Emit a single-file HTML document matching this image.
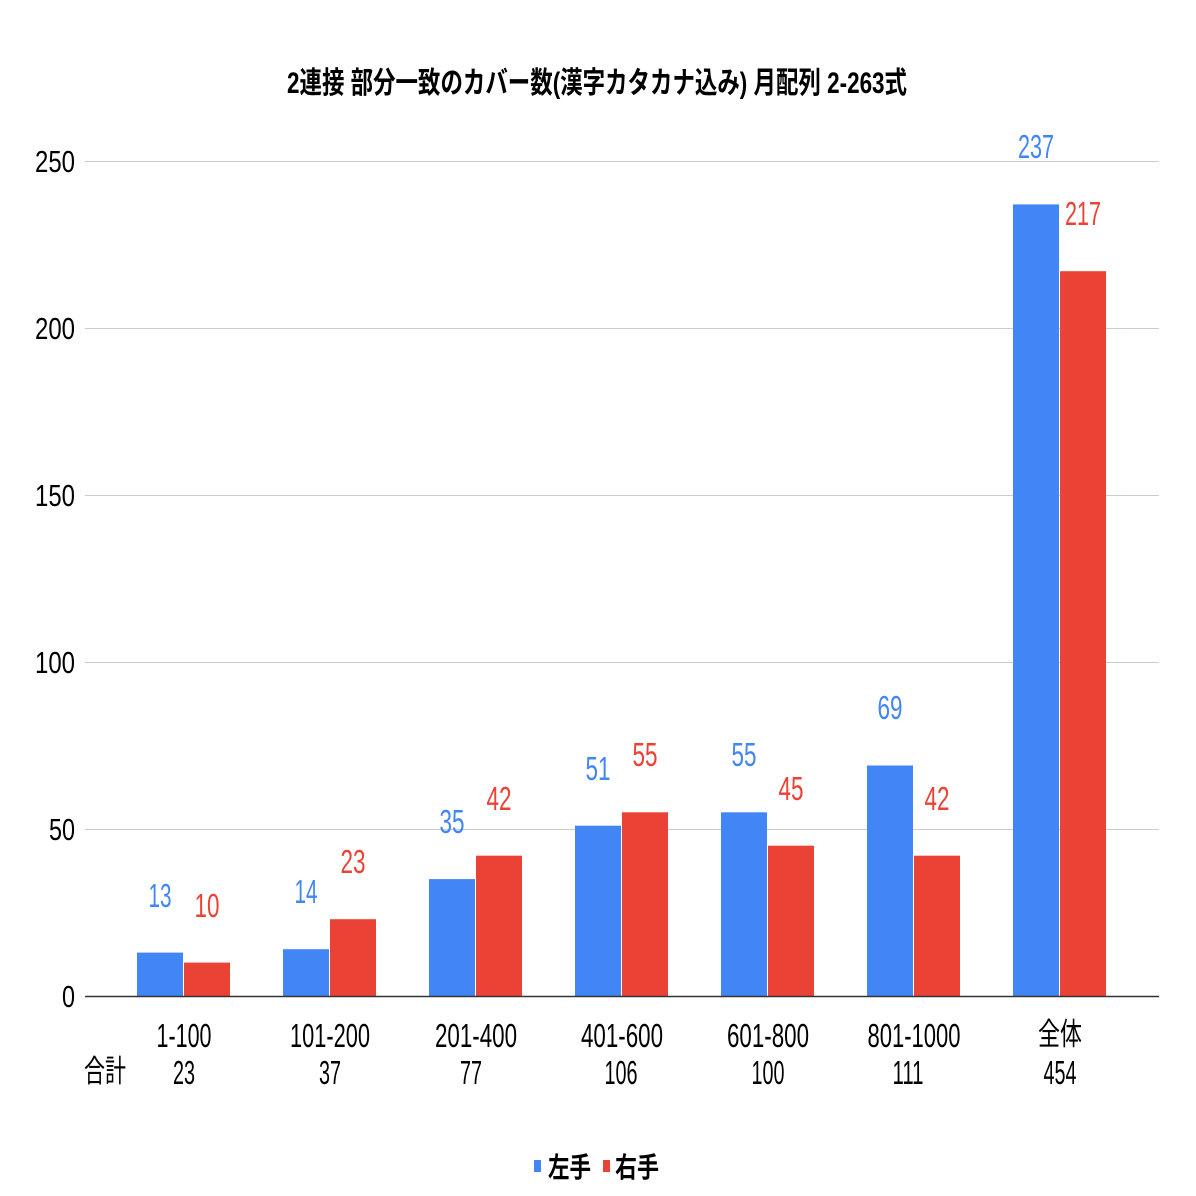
<!DOCTYPE html>
<html><head><meta charset="utf-8"><style>
body{margin:0;background:#fff}
svg{display:block}
text{font-family:"Liberation Sans","Noto Sans CJK JP",sans-serif}
</style></head><body>
<svg width="1196" height="1196" viewBox="0 0 1196 1196" xmlns="http://www.w3.org/2000/svg">
<rect width="1196" height="1196" fill="#fff"/>
<text x="287" y="93" font-size="30" font-weight="bold" textLength="620" lengthAdjust="spacingAndGlyphs">2連接 部分一致のカバー数(漢字カタカナ込み) 月配列 2-263式</text>
<g stroke="#ccc" stroke-width="1">
<line x1="85" y1="161.5" x2="1159" y2="161.5"/>
<line x1="85" y1="328.5" x2="1159" y2="328.5"/>
<line x1="85" y1="495.5" x2="1159" y2="495.5"/>
<line x1="85" y1="662.5" x2="1159" y2="662.5"/>
<line x1="85" y1="829.5" x2="1159" y2="829.5"/>
</g>
<g font-size="31" fill="#000">
<text x="35" y="172" textLength="40" lengthAdjust="spacingAndGlyphs">250</text>
<text x="35" y="339" textLength="40" lengthAdjust="spacingAndGlyphs">200</text>
<text x="35" y="506" textLength="40" lengthAdjust="spacingAndGlyphs">150</text>
<text x="35" y="673" textLength="40" lengthAdjust="spacingAndGlyphs">100</text>
<text x="49" y="840" textLength="26" lengthAdjust="spacingAndGlyphs">50</text>
<text x="62" y="1007" textLength="13" lengthAdjust="spacingAndGlyphs">0</text>
</g>
<g fill="#4285F4">
<rect x="137" y="952.6" width="46" height="43.4"/>
<rect x="283" y="949.2" width="46" height="46.8"/>
<rect x="429" y="879.1" width="46" height="116.9"/>
<rect x="575" y="825.7" width="46" height="170.3"/>
<rect x="721" y="812.3" width="46" height="183.7"/>
<rect x="867" y="765.5" width="46" height="230.5"/>
<rect x="1013" y="204.4" width="46" height="791.6"/>
</g>
<g fill="#EA4335">
<rect x="184" y="962.6" width="46" height="33.4"/>
<rect x="330" y="919.2" width="46" height="76.8"/>
<rect x="476" y="855.7" width="46" height="140.3"/>
<rect x="622" y="812.3" width="46" height="183.7"/>
<rect x="768" y="845.7" width="46" height="150.3"/>
<rect x="914" y="855.7" width="46" height="140.3"/>
<rect x="1060" y="271.2" width="46" height="724.8"/>
</g>
<line x1="85" y1="996.5" x2="1159" y2="996.5" stroke="#333" stroke-width="1.5"/>
<g font-size="33" fill="#4285F4" text-anchor="middle">
<text x="160" y="907" textLength="23" lengthAdjust="spacingAndGlyphs">13</text>
<text x="306" y="903" textLength="23" lengthAdjust="spacingAndGlyphs">14</text>
<text x="452" y="833" textLength="25" lengthAdjust="spacingAndGlyphs">35</text>
<text x="598" y="780" textLength="25" lengthAdjust="spacingAndGlyphs">51</text>
<text x="744" y="766" textLength="25" lengthAdjust="spacingAndGlyphs">55</text>
<text x="890" y="719" textLength="25" lengthAdjust="spacingAndGlyphs">69</text>
<text x="1036" y="158" textLength="36" lengthAdjust="spacingAndGlyphs">237</text>
</g>
<g font-size="33" fill="#EA4335" text-anchor="middle">
<text x="207" y="917" textLength="25" lengthAdjust="spacingAndGlyphs">10</text>
<text x="353" y="873" textLength="25" lengthAdjust="spacingAndGlyphs">23</text>
<text x="499" y="810" textLength="25" lengthAdjust="spacingAndGlyphs">42</text>
<text x="645" y="766" textLength="25" lengthAdjust="spacingAndGlyphs">55</text>
<text x="791" y="800" textLength="25" lengthAdjust="spacingAndGlyphs">45</text>
<text x="937" y="810" textLength="25" lengthAdjust="spacingAndGlyphs">42</text>
<text x="1083" y="225" textLength="36" lengthAdjust="spacingAndGlyphs">217</text>
</g>
<g font-size="33" fill="#000" text-anchor="middle">
<text x="184" y="1047" textLength="55" lengthAdjust="spacingAndGlyphs">1-100</text>
<text x="330" y="1047" textLength="80" lengthAdjust="spacingAndGlyphs">101-200</text>
<text x="476" y="1047" textLength="82" lengthAdjust="spacingAndGlyphs">201-400</text>
<text x="622" y="1047" textLength="82" lengthAdjust="spacingAndGlyphs">401-600</text>
<text x="768" y="1047" textLength="82" lengthAdjust="spacingAndGlyphs">601-800</text>
<text x="914" y="1047" textLength="93" lengthAdjust="spacingAndGlyphs">801-1000</text>
<text x="1060" y="1045" font-size="31" textLength="44" lengthAdjust="spacingAndGlyphs">全体</text>
<text x="184" y="1084" textLength="22" lengthAdjust="spacingAndGlyphs">23</text>
<text x="330" y="1084" textLength="22" lengthAdjust="spacingAndGlyphs">37</text>
<text x="471" y="1084" textLength="22" lengthAdjust="spacingAndGlyphs">77</text>
<text x="621" y="1084" textLength="33" lengthAdjust="spacingAndGlyphs">106</text>
<text x="768" y="1084" textLength="33" lengthAdjust="spacingAndGlyphs">100</text>
<text x="908" y="1084" textLength="31" lengthAdjust="spacingAndGlyphs">111</text>
<text x="1060" y="1084" textLength="33" lengthAdjust="spacingAndGlyphs">454</text>
<text x="105" y="1082" font-size="31" textLength="42" lengthAdjust="spacingAndGlyphs">合計</text>
</g>
<rect x="534" y="1160" width="7" height="12" fill="#4285F4"/>
<text x="548" y="1177" font-size="28" font-weight="bold" textLength="43" lengthAdjust="spacingAndGlyphs">左手</text>
<rect x="603" y="1160" width="7" height="12" fill="#EA4335"/>
<text x="615" y="1177" font-size="28" font-weight="bold" textLength="44" lengthAdjust="spacingAndGlyphs">右手</text>
</svg>
</body></html>
